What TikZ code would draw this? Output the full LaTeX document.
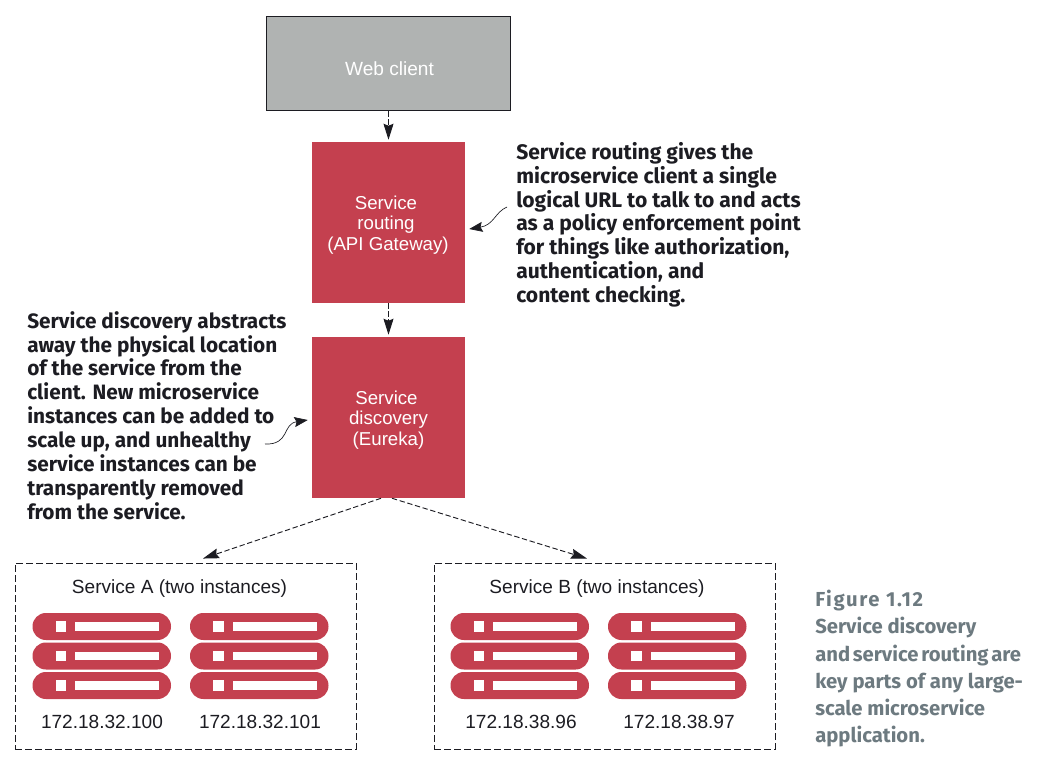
\documentclass[tikz,border=0pt]{standalone}
\usepackage{fontspec}
\setmainfont{Liberation Sans}
\newfontfamily\notefont{Fira Sans}
\usetikzlibrary{arrows.meta,calc}
\definecolor{brick}{HTML}{C4404F}
\definecolor{clientgray}{HTML}{B0B3B2}
\definecolor{inkc}{HTML}{1C1C22}
\definecolor{capgray}{HTML}{6D7A80}
\tikzset{
  labelfont/.style={font=\fontsize{14.3}{15.4}\selectfont},
  clientbox/.style={draw=inkc,line width=0.8pt,fill=clientgray,minimum width=182.6pt,minimum height=71pt,inner sep=0pt},
  redbox/.style={fill=brick,minimum width=114.75pt,minimum height=120.75pt,inner sep=0pt},
  boxlabel/.style={text=white,font=\fontsize{14}{15.4}\selectfont,align=center,inner sep=0pt},
  groupbox/.style={draw=inkc,line width=0.7pt,dash pattern=on 5.2pt off 2.3pt,minimum width=255.75pt,minimum height=139.5pt,inner sep=0pt},
  plain/.style={text=inkc,labelfont,inner sep=0pt},
  note/.style={text=inkc,align=left,anchor=north west,inner sep=0pt,font=\notefont\bfseries\fontsize{15.6}{17.9}\selectfont},
  wide note/.style={note,font=\notefont\bfseries\fontsize{15.8}{17.9}\selectfont},
  caption/.style={text=capgray,align=left,anchor=north west,inner sep=0pt,font=\notefont\bfseries\fontsize{15.2}{20.4}\selectfont},
  flow/.style={draw=inkc,line width=0.7pt,dash pattern=on 4pt off 2pt,-{Stealth[length=12pt,width=7.5pt,inset=1.5pt]}},
  pointer/.style={draw=inkc,line width=0.5pt,-{Stealth[length=10pt,width=7.5pt,inset=1.5pt]}},
  pill/.style={fill=brick,rounded corners=10pt},
  pillmark/.style={fill=white},
}
\begin{document}
\begin{tikzpicture}[x=0.75pt,y=-0.75pt]
\useasboundingbox (0,0) rectangle (1047,761);
\node[clientbox] (web) at (388.5,63.5) {};
\node[boxlabel,font=\fontsize{14.3}{15.4}\selectfont] (weblabel) at (389.5,68.5) {Web client};
\node[redbox] (routing) at (388.5,222.5) {};
\node[boxlabel] (routinglabel) at (388,225) {\hspace*{-3pt}Service\\\hspace*{-3pt}routing\\(API Gateway)};
\node[redbox] (discovery) at (388.5,417.5) {};
\node[boxlabel] (discoverylabel) at (388.5,420) {\hspace*{-3pt}Service\\discovery\\(Eureka)};
\node[groupbox] (svca) at (185.5,656) {};
\node[groupbox] (svcb) at (604.5,656) {};
\node[plain] (titlea) at (179.5,588.5) {Service A (two instances)};
\node[plain] (titleb) at (597,588.5) {Service B (two instances)};
\node[plain] (ip1) at (102,722) {172.18.32.100};
\node[plain] (ip2) at (260,722) {172.18.32.101};
\node[plain] (ip3) at (521,722) {172.18.38.96};
\node[plain] (ip4) at (679,722) {172.18.38.97};
\foreach \x in {32.5,190,450.5,608}{
  \foreach \y in {613,642.5,672}{
    \path[pill] (\x,\y) rectangle ++(138.5,27);
    \path[pillmark] (\x+23,\y+8) rectangle ++(10.5,10.5);
    \path[pillmark] (\x+42.5,\y+9) rectangle ++(84,8.5);
  }
}
\node[wide note] (noterouting) at (516,142) {Service routing gives the\\microservice client a single\\logical URL to talk to and acts\\as a policy enforcement point\\for things like authorization,\\authentication, and\\content checking.};
\node[note] (notediscovery) at (27,311) {Service discovery abstracts\\away the physical location\\of the service from the\\client. New microservice\\instances can be added to\\scale up, and unhealthy\\service instances can be\\transparently removed\\from the service.};
\node[caption] (figcaption) at (815,590) {{\addfontfeature{LetterSpace=8}Figure 1.12}\\Service discovery\\{\spaceskip=2pt and service routing are}\\key parts of any large-\\scale microservice\\application.};
\draw[flow,shorten >=1.5pt] (web) -- (routing);
\draw[flow,shorten >=1.5pt] (routing) -- (discovery);
\draw[flow] ($(discovery.south)+(-7.5,0)$) -- ($(svca.north)+(17.5,-4)$);
\draw[flow] ($(discovery.south)+(3.5,0)$) -- ($(svcb.north)+(-17.5,-4)$);
\coordinate (pr) at (507,207);
\coordinate (pd) at (265,444);
\draw[pointer] (pr) .. controls (495,212) and (494,225) .. ($(routing.east)+(4,6.5)$);
\draw[pointer] (pd) .. controls (290,445) and (282,424) .. ($(discovery.west)+(-4,2.5)$);
\end{tikzpicture}
\end{document}
